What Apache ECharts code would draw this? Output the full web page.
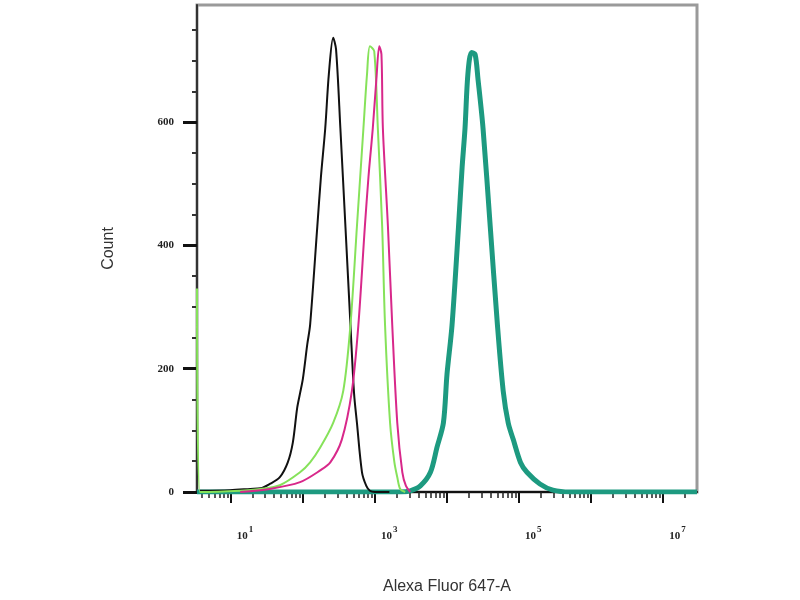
<!DOCTYPE html>
<html>
<head>
<meta charset="utf-8">
<script src="https://cdn.jsdelivr.net/npm/echarts@6/dist/echarts.min.js"></script>
<style>html,body{margin:0;padding:0;background:#fff}#c{width:800px;height:600px}</style>
</head>
<body>
<div id="c"></div>
<script>
// x values are log10(Alexa Fluor 647-A intensity), y values are counts
const blackX = [0.57,0.99,1.27,1.41,1.54,1.68,1.79,1.86,1.92,1.96,2.00,2.06,2.10,2.20,2.25,2.31,2.36,2.42,2.46,2.52,2.59,2.66,2.71,2.75,2.82,2.88,2.93,3.00,3.20];
const blackY = [2,3,5,6,13,24,48,80,136,160,184,239,271,431,511,590,678,737,718,590,431,271,160,112,32,10,2,0,0];

const greenX = [0.53,0.57,1.13,1.41,1.68,1.96,2.10,2.24,2.42,2.56,2.66,2.75,2.84,2.89,2.93,2.99,3.04,3.10,3.14,3.21,3.27,3.31,3.35,3.42];
const greenY = [330,0,2,5,11,32,48,72,112,164,271,431,590,678,723,715,590,431,271,112,48,24,5,0];

const magentaX = [1.13,1.54,1.96,2.24,2.38,2.54,2.68,2.77,2.86,2.91,2.93,2.97,3.02,3.06,3.09,3.11,3.18,3.24,3.31,3.38,3.43,3.49];
const magentaY = [0,5,16,35,48,85,164,271,431,511,538,590,670,723,710,590,431,271,112,32,10,0];

const tealX = [0.53,3.35,3.49,3.63,3.77,3.86,3.95,4.00,4.07,4.16,4.21,4.25,4.29,4.34,4.39,4.43,4.50,4.60,4.70,4.78,4.85,4.92,5.02,5.11,5.29,5.47,5.71,7.47];
const tealY = [0,0,2,10,32,72,112,191,271,431,527,590,678,713,710,670,590,431,271,164,112,85,48,32,13,3,0,0];

const xMajorTicks = [1,2,3,4,5,6,7];
const xLabelExponents = [1,3,5,7];
const yLabelValues = [0,200,400,600];
const yMinorTicks = [50,100,150,250,300,350,450,500,550,650,700,750];

const xMin = 0.53, xMax = 7.47, yMax = 790;

const xMinorTicks = [];
for (let d = 0; d <= 7; d++) {
  for (let k = 2; k <= 9; k++) {
    const v = d + Math.log10(k);
    if (v > xMin && v < xMax) xMinorTicks.push(v);
  }
}
const zip = (xs, ys) => xs.map((x, i) => [x, ys[i]]);

const chart = echarts.init(document.getElementById('c'));
const grid = {left:197, right:103, top:5, bottom:97, show:true, borderColor:'#9a9a9a', borderWidth:3, backgroundColor:'#fff'};
const lineSeries = (name, xs, ys, color, width) => ({
  name, type:'line', data: zip(xs, ys), showSymbol:false, smooth:0.3,
  lineStyle:{color, width}, itemStyle:{color}, z: 3
});
chart.setOption({
  animation:false,
  grid,
  xAxis:[{
    type:'value', min:xMin, max:xMax,
    name:'Alexa Fluor 647-A', nameLocation:'middle', nameGap:87,
    nameTextStyle:{fontFamily:'Liberation Sans, Arial', fontSize:16, color:'#333'},
    axisLine:{show:true, onZero:false, lineStyle:{color:'#111', width:2}},
    axisTick:{show:true, customValues:xMajorTicks, length:11, lineStyle:{color:'#111', width:2}},
    axisLabel:{customValues:xLabelExponents, margin:33, align:'left', padding:[0,0,0,6],
      formatter: v => '{b|10}{s|' + v + '}',
      rich:{b:{fontSize:11, fontWeight:'bold', fontFamily:'Liberation Serif', color:'#222'},
            s:{fontSize:9, fontWeight:'bold', fontFamily:'Liberation Serif', color:'#222', padding:[0,0,14,1]}}},
    splitLine:{show:false}
  },{
    type:'value', min:xMin, max:xMax, position:'bottom',
    axisLine:{show:false},
    axisTick:{show:true, customValues:xMinorTicks, length:6, lineStyle:{color:'#222', width:1.5}},
    axisLabel:{show:false}, splitLine:{show:false}
  }],
  yAxis:[{
    type:'value', min:0, max:yMax,
    name:'Count', nameLocation:'middle', nameGap:80, nameRotate:90,
    nameTextStyle:{fontFamily:'Liberation Sans, Arial', fontSize:16, color:'#333'},
    axisLine:{show:true, lineStyle:{color:'#333', width:2}},
    axisTick:{show:true, customValues:yLabelValues, length:14, lineStyle:{color:'#111', width:3}},
    axisLabel:{customValues:yLabelValues, margin:23, fontSize:11, fontWeight:'bold', fontFamily:'Liberation Serif', color:'#222'},
    splitLine:{show:false}
  },{
    type:'value', min:0, max:yMax, position:'left',
    axisLine:{show:false},
    axisTick:{show:true, customValues:yMinorTicks, length:5, lineStyle:{color:'#333', width:2}},
    axisLabel:{show:false}, splitLine:{show:false}
  }],
  series:[
    lineSeries('teal', tealX, tealY, '#1d9a80', 5),
    lineSeries('black', blackX, blackY, '#111111', 2),
    lineSeries('green', greenX, greenY, '#86e25a', 2),
    lineSeries('magenta', magentaX, magentaY, '#d8288a', 2)
  ]
});
</script>
</body>
</html>
